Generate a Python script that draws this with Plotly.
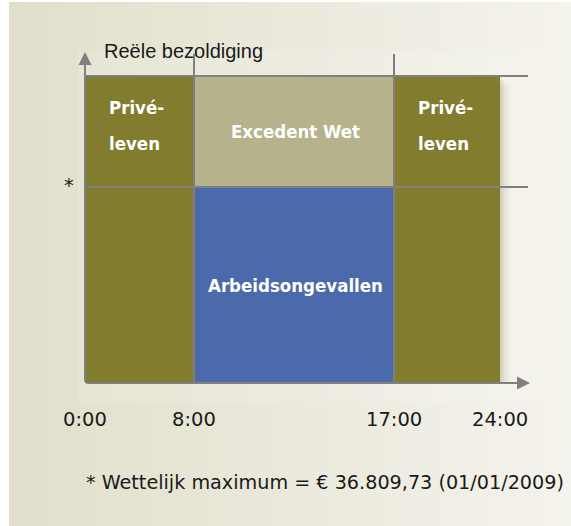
import plotly.graph_objects as go

# ---------------- data ----------------
hours = [0, 8, 17, 24]
tick_labels = ["0:00", "8:00", "17:00", "24:00"]

# blocks: label lines, start hour, end hour, low level, high level (relative to legal maximum = 1)
block_labels = [["Privé-", "leven"], ["Arbeidsongevallen"], ["Excedent Wet"], ["Privé-", "leven"]]
block_start = [0, 8, 8, 17]
block_end = [8, 17, 17, 24]
block_low = [0.0, 0.0, 1.0, 0.0]
block_high = [1.566, 1.0, 1.566, 1.566]

legal_max = 1.0
top_level = 1.566

y_title = "Reële bezoldiging"
max_mark = "*"
footnote = "* Wettelijk maximum = € 36.809,73 (01/01/2009)"

# ---------------- layout / style ----------------
W, H = 571, 526
OX, OY = 85, 383          # pixel origin of the axes
PX_RIGHT, PX_TOP = 530, 52
Y_UNIT = 196              # pixels per unit of legal maximum
col_pos = [0, 109, 309, 415]   # display positions of the hour boundaries
pos = dict(zip(hours, col_pos))

OLIVE = "#827c2f"
LIGHT = "#b5b28c"
BLUE = "#4a6aab"
GRAY = "#808080"
block_colors = [OLIVE, BLUE, LIGHT, OLIVE]

xr = [0, PX_RIGHT - OX]
yr = [0, (OY - PX_TOP) / Y_UNIT]


def pxx(px):
    return (px - OX) / (PX_RIGHT - OX)


def pxy(py):
    return (OY - py) / (OY - PX_TOP)


fig = go.Figure()

# blocks as bars
for lab, s, e, lo, hi, c in zip(block_labels, block_start, block_end, block_low, block_high, block_colors):
    x0, x1 = pos[s], pos[e]
    fig.add_trace(go.Bar(x=[(x0 + x1) / 2], y=[hi - lo], base=[lo], width=[x1 - x0],
                         marker=dict(color=c, line=dict(width=0)), showlegend=False,
                         hoverinfo="skip"))

shapes = []
# background gradient
n = 40
x_left, x_right = 9, W
for i in range(n):
    t = i / (n - 1)
    c0 = (225, 223, 203)
    c1 = (244, 243, 236)
    col = tuple(int(round(a + (b - a) * t)) for a, b in zip(c0, c1))
    xa = x_left + (x_right - x_left) * i / n
    xb = x_left + (x_right - x_left) * (i + 1) / n + 0.6
    shapes.append(dict(type="rect", xref="paper", yref="paper",
                       x0=pxx(xa), x1=pxx(xb), y0=pxy(H), y1=pxy(2),
                       fillcolor="rgb(%d,%d,%d)" % col, line=dict(width=0), layer="below"))
# lighter panel behind the chart
shapes.append(dict(type="rect", xref="paper", yref="paper",
                   x0=pxx(78), x1=pxx(543), y0=pxy(402), y1=pxy(50),
                   fillcolor="rgba(255,255,255,0.13)", line=dict(width=0), layer="below"))
# soft shadow of the blocks
for off, a in [(10, 0.04), (7, 0.06), (4, 0.08), (2, 0.09)]:
    shapes.append(dict(type="rect", xref="x", yref="y",
                       x0=col_pos[0] + off, x1=col_pos[-1] + off,
                       y0=-off / Y_UNIT, y1=top_level - off / Y_UNIT,
                       fillcolor="rgba(110,100,40,%g)" % a, line=dict(width=0), layer="below"))

# grid lines
line_end = 528 - OX
for lvl in [legal_max, top_level]:
    shapes.append(dict(type="line", xref="x", yref="y", x0=0, x1=line_end, y0=lvl, y1=lvl,
                       line=dict(color=GRAY, width=2), layer="above"))
for h in hours[1:3]:
    shapes.append(dict(type="line", xref="x", yref="y", x0=pos[h], x1=pos[h], y0=0,
                       y1=(OY - 54) / Y_UNIT, line=dict(color=GRAY, width=2), layer="above"))

annotations = []
# axes with arrows
annotations.append(dict(x=0, y=yr[1], ax=0, ay=0, xref="x", yref="y", axref="x", ayref="y",
                        showarrow=True, arrowhead=2, arrowsize=1.3, arrowwidth=2,
                        arrowcolor=GRAY, text=""))
annotations.append(dict(x=xr[1], y=0, ax=0, ay=0, xref="x", yref="y", axref="x", ayref="y",
                        showarrow=True, arrowhead=2, arrowsize=1.3, arrowwidth=2,
                        arrowcolor=GRAY, text=""))

# block labels
lab_font = dict(family="Liberation Sans Narrow, DejaVu Sans Condensed, Arial Narrow, sans-serif",
                size=18.5, color="white")
for lab, s, e, lo, hi in zip(block_labels, block_start, block_end, block_low, block_high):
    if len(lab) == 2:
        xl = pos[s] + 22
        annotations.append(dict(x=xl, y=hi, xref="x", yref="y", text="<b>%s</b>" % lab[0],
                                showarrow=False, xanchor="left", yanchor="middle",
                                yshift=-31, font=lab_font))
        annotations.append(dict(x=xl, y=hi, xref="x", yref="y", text="<b>%s</b>" % lab[1],
                                showarrow=False, xanchor="left", yanchor="middle",
                                yshift=-67, font=lab_font))
    else:
        annotations.append(dict(x=(pos[s] + pos[e]) / 2 + 1, y=(lo + hi) / 2, xref="x", yref="y",
                                text="<b>%s</b>" % lab[0], showarrow=False,
                                xanchor="center", yanchor="middle", font=lab_font))

txt_font = dict(family="DejaVu Sans, Verdana, sans-serif", size=19.5, color="#1a1a1a")
for h, t in zip(hours, tick_labels):
    annotations.append(dict(x=pos[h], y=0, xref="x", yref="y", text=t, showarrow=False,
                            xanchor="center", yanchor="middle", yshift=-36, font=txt_font))

annotations.append(dict(x=0, y=legal_max, xref="x", yref="y", text=max_mark, showarrow=False,
                        xanchor="center", yanchor="middle", xshift=-16, yshift=2, font=txt_font))
annotations.append(dict(x=pxx(102), y=pxy(51), xref="paper", yref="paper", text=y_title,
                        showarrow=False, xanchor="left", yanchor="middle",
                        font=dict(family="Liberation Sans, Arial, sans-serif", size=20,
                                  color="#1a1a1a")))
annotations.append(dict(x=pxx(84), y=pxy(482), xref="paper", yref="paper", text=footnote,
                        showarrow=False, xanchor="left", yanchor="middle",
                        font=dict(family="DejaVu Sans, Verdana, sans-serif", size=19.2,
                                  color="#1a1a1a")))

fig.update_layout(
    width=W, height=H, autosize=False,
    margin=dict(l=OX, r=W - PX_RIGHT, t=PX_TOP, b=H - OY, pad=0),
    paper_bgcolor="white", plot_bgcolor="rgba(0,0,0,0)",
    barmode="overlay", bargap=0,
    xaxis=dict(range=xr, visible=False, fixedrange=True),
    yaxis=dict(range=yr, visible=False, fixedrange=True),
    shapes=shapes, annotations=annotations,
)

fig.write_html("out.html", config={"displayModeBar": False},
               post_script="document.body.style.margin='0px';")
